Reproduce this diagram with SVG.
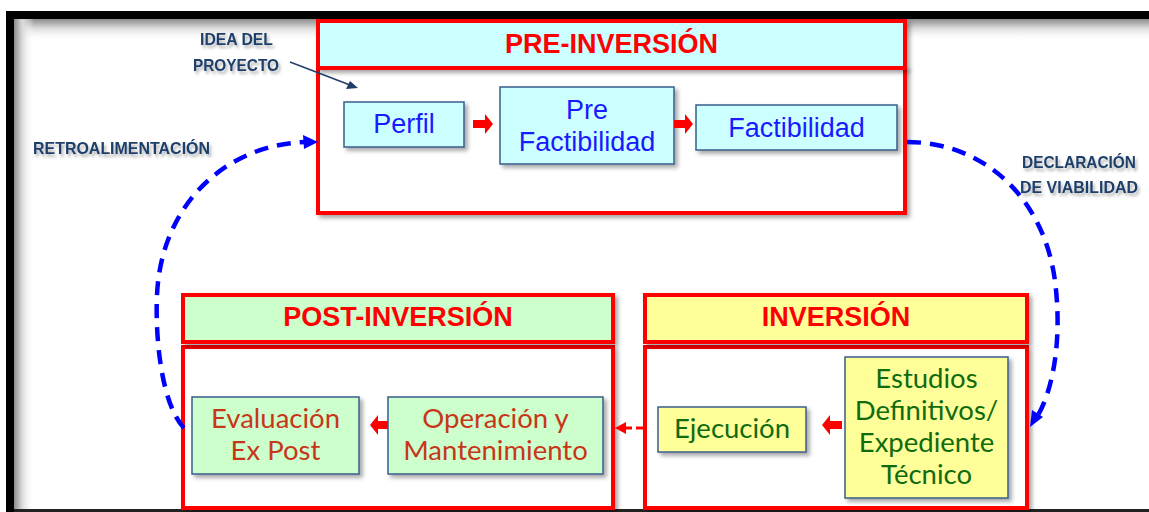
<svg xmlns="http://www.w3.org/2000/svg" width="1149" height="512" viewBox="0 0 1149 512">
<defs>
<linearGradient id="gT" x1="0" y1="0" x2="0" y2="1"><stop offset="0" stop-color="#8c8c8c"/><stop offset="0.4" stop-color="#d8d8d8"/><stop offset="1" stop-color="#ffffff" stop-opacity="0"/></linearGradient>
<linearGradient id="gL" x1="0" y1="0" x2="1" y2="0"><stop offset="0" stop-color="#8c8c8c"/><stop offset="0.4" stop-color="#d8d8d8"/><stop offset="1" stop-color="#ffffff" stop-opacity="0"/></linearGradient>
<filter id="sh" x="-10%" y="-10%" width="130%" height="140%"><feDropShadow dx="3" dy="3" stdDeviation="2" flood-color="#000" flood-opacity="0.35"/></filter>
<filter id="tsh" x="-10%" y="-30%" width="130%" height="180%"><feDropShadow dx="2" dy="3" stdDeviation="1.5" flood-color="#000" flood-opacity="0.3"/></filter>
<style>
.hdr{stroke:#ff0000;stroke-width:4}
.body{fill:#ffffff;stroke:#ff0000;stroke-width:4}
.box{stroke:#385d8a;stroke-width:1.5}
.htxt{font-family:"Liberation Sans",Arial,sans-serif;font-weight:bold;font-size:27px;fill:#ff0000;text-anchor:middle}
.ttxt{font-family:"Liberation Sans",Arial,sans-serif;font-size:27px;fill:#1a1aff;text-anchor:middle}
.btxt{font-family:Lato,"Open Sans",sans-serif;font-size:27.5px;text-anchor:middle}
.lbl{font-family:"Liberation Sans",Arial,sans-serif;font-weight:bold;font-size:16.5px;fill:#1f3f6a}
.blue{fill:none;stroke:#0000ff;stroke-width:4.5;stroke-dasharray:14 9}
.rarrow{fill:#ff0000}
</style>
</defs>
<rect width="1149" height="512" fill="#ffffff"/>
<g id="frame">
<rect x="14" y="19" width="1135" height="22" fill="url(#gT)"/>
<rect x="14" y="19" width="20" height="491" fill="url(#gL)"/>
<rect x="6" y="11" width="1143" height="8" fill="#000"/>
<rect x="6" y="11" width="8" height="501" fill="#000"/>
<rect x="14" y="509" width="1135" height="3" fill="#222"/>
</g>
<g id="pre-inversion">
<rect class="body" x="318" y="68" width="587" height="145" filter="url(#sh)"/>
<rect class="hdr" x="318" y="21" width="587" height="47" fill="#ccffff" filter="url(#sh)"/>
<text class="htxt" x="611.5" y="53">PRE-INVERSIÓN</text>
</g>
<g id="perfil">
<rect class="box" x="344" y="102" width="120" height="45" fill="#ccffff" filter="url(#sh)"/>
<text class="ttxt" x="404" y="133">Perfil</text>
</g>
<g id="prefactibilidad">
<rect class="box" x="500" y="87" width="174" height="77" fill="#ccffff" filter="url(#sh)"/>
<text class="ttxt" x="587" y="119">Pre</text>
<text class="ttxt" x="587" y="151">Factibilidad</text>
</g>
<g id="factibilidad">
<rect class="box" x="696" y="105" width="201" height="45" fill="#ccffff" filter="url(#sh)"/>
<text class="ttxt" x="796.5" y="137">Factibilidad</text>
</g>
<g id="post-inversion">
<rect class="body" x="183" y="347" width="430" height="161" filter="url(#sh)"/>
<rect class="hdr" x="183" y="295" width="430" height="47" fill="#ccffcc" filter="url(#sh)"/>
<text class="htxt" x="398" y="326">POST-INVERSIÓN</text>
</g>
<g id="evaluacion">
<rect class="box" x="192" y="397" width="167" height="77" fill="#ccffcc" filter="url(#sh)"/>
<text class="btxt" x="275.5" y="428" fill="#c8361a">Evaluación</text>
<text class="btxt" x="275.5" y="460" fill="#c8361a">Ex Post</text>
</g>
<g id="operacion">
<rect class="box" x="388" y="397" width="215" height="77" fill="#ccffcc" filter="url(#sh)"/>
<text class="btxt" x="495.5" y="428" fill="#c8361a">Operación y</text>
<text class="btxt" x="495.5" y="460" fill="#c8361a">Mantenimiento</text>
</g>
<g id="inversion">
<rect class="body" x="645" y="347" width="382" height="161" filter="url(#sh)"/>
<rect class="hdr" x="645" y="295" width="382" height="47" fill="#ffff99" filter="url(#sh)"/>
<text class="htxt" x="836" y="326">INVERSIÓN</text>
</g>
<g id="ejecucion">
<rect class="box" x="658" y="407" width="148" height="45" fill="#ffff99" filter="url(#sh)"/>
<text class="btxt" x="732" y="438" fill="#0f6b0f">Ejecución</text>
</g>
<g id="estudios">
<rect class="box" x="845" y="357" width="163" height="141" fill="#ffff99" filter="url(#sh)"/>
<text class="btxt" x="926.5" y="388" fill="#0f6b0f">Estudios</text>
<text class="btxt" x="926.5" y="420" fill="#0f6b0f">Definitivos/</text>
<text class="btxt" x="926.5" y="452" fill="#0f6b0f">Expediente</text>
<text class="btxt" x="926.5" y="484" fill="#0f6b0f">Técnico</text>
</g>
<g id="labels" filter="url(#tsh)">
<text class="lbl" x="200" y="45" textLength="73" lengthAdjust="spacingAndGlyphs">IDEA DEL</text>
<text class="lbl" x="193" y="71" textLength="86" lengthAdjust="spacingAndGlyphs">PROYECTO</text>
<text class="lbl" x="33" y="154" textLength="177" lengthAdjust="spacingAndGlyphs">RETROALIMENTACIÓN</text>
<text class="lbl" x="1022" y="168" textLength="114" lengthAdjust="spacingAndGlyphs">DECLARACIÓN</text>
<text class="lbl" x="1020" y="193" textLength="118" lengthAdjust="spacingAndGlyphs">DE VIABILIDAD</text>
</g>
<g id="connectors">
<line x1="290" y1="62" x2="350" y2="85" stroke="#1f3f6a" stroke-width="1.5"/>
<polygon points="358,88 346,89 350,81" fill="#1f3f6a"/>
<polygon class="rarrow" points="473,120 485,120 485,114 493,124 485,134 485,128 473,128"/>
<polygon class="rarrow" points="674,120 685,120 685,114 693,124 685,134 685,128 674,128"/>
<polygon class="rarrow" points="842,421 830,421 830,415 822,425 830,435 830,429 842,429"/>
<polygon class="rarrow" points="388,421 378,421 378,415 370,425 378,435 378,429 388,429"/>
<line x1="645" y1="428" x2="626" y2="428" stroke="#ff0000" stroke-width="3" stroke-dasharray="9 4"/>
<polygon class="rarrow" points="615,428 626,422 626,434"/>
<path class="blue" d="M907,142 C985,142 1048,200 1056,290 C1062,350 1050,395 1038,415"/>
<polygon points="1030,427 1032,410 1043,417" fill="#0000ff"/>
<path class="blue" d="M184,428 C162,405 155,340 157,295 C161,205 225,145 305,142"/>
<polygon points="318,142 303,135 304,149" fill="#0000ff"/>
</g>
</svg>
